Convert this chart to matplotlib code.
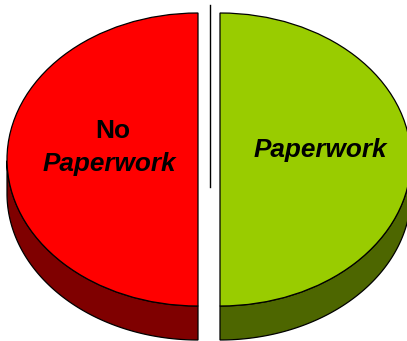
import numpy as np

import matplotlib
matplotlib.use("Agg")
import matplotlib.pyplot as plt

labels = ["No\nPaperwork", "Paperwork"]
shares = [50, 50]
top_colors = ["#ff0000", "#99cc00"]
side_colors = ["#7f0000", "#4d6600"]

W, H = 407, 341
RX, RY = 191.0, 146.5     # ellipse radii, px
CX, CY = 209.0, 159.5     # pie centre, px
GAP = 11.0                # how far each half is pulled out, px
DEPTH = 34.0              # extrusion height, px

plt.rcParams["font.family"] = ["Liberation Sans", "DejaVu Sans"]

fig = plt.figure(figsize=(W / 100, H / 100), dpi=100)
ax = fig.add_axes([0, 0, 1, 1])

# side walls first, only the part of the rim facing the viewer
start = 90.0
for share, col, sign in zip(shares, side_colors, [-1, 1]):
    sweep = 360.0 * share / sum(shares)
    th0, th1 = np.radians(start), np.radians(start + sweep)
    th = np.linspace(th0, th1, 200)
    th = th[np.sin(th) <= 0]
    x = sign * GAP / RX + np.cos(th)
    y = np.sin(th)
    d = DEPTH / RY
    ax.fill(np.r_[x, x[::-1]], np.r_[y, y[::-1] - d], facecolor=col,
            edgecolor="black", lw=0.9, zorder=1)
    start += sweep

ax.pie(shares, colors=top_colors, startangle=90, radius=1.0,
       explode=[GAP / RX, GAP / RX],
       wedgeprops=dict(edgecolor="black", linewidth=0.9, zorder=2))

ax.set_aspect("auto")
ax.set_xlim(-CX / RX, (W - CX) / RX)
ax.set_ylim((CY - H) / RY, CY / RY)
ax.axis("off")


def px(x, y):
    return (x - CX) / RX, (CY - y) / RY


# divider between the two halves
x0, y0 = px(209.5, 5)
x1, y1 = px(209.5, 187)
ax.plot([x0, x1], [y0, y1], color="black", lw=1.0, zorder=3)

tx, ty = px(113, 131)
ax.text(tx, ty, labels[0].split("\n")[0], ha="center", va="center",
        fontsize=19, fontweight="bold", zorder=4)
tx, ty = px(109.5, 164)
ax.text(tx, ty, labels[0].split("\n")[1], ha="center", va="center",
        fontsize=18.8, fontweight="bold", fontstyle="italic", zorder=4)
tx, ty = px(320, 150.5)
ax.text(tx, ty, labels[1], ha="center", va="center",
        fontsize=18.8, fontweight="bold", fontstyle="italic", zorder=4)

fig.savefig("out.png", dpi=100)
